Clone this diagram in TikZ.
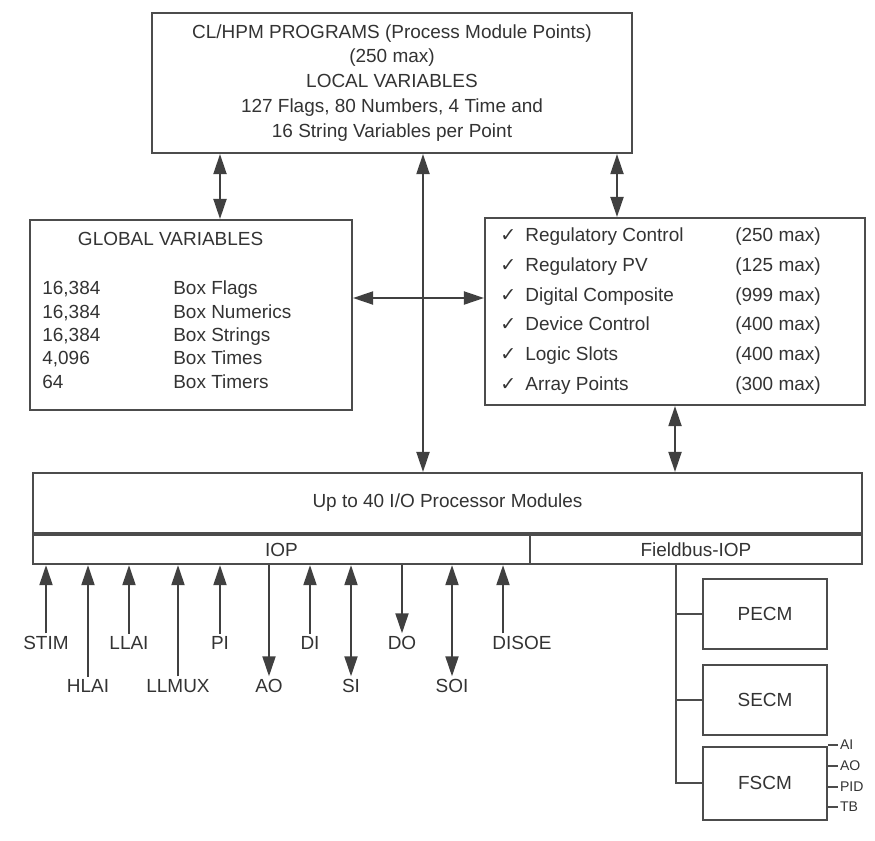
\documentclass[tikz,border=0pt]{standalone}
\usepackage{fontspec}
\setmainfont{Liberation Sans}
\newfontfamily\symfont{DejaVu Sans}
\usetikzlibrary{positioning,arrows.meta}
\begin{document}
\begin{tikzpicture}[
    x = 0.02cm,
    y = -0.02cm,
    font = \fontsize{10.8}{14.2}\selectfont,
    >= {Triangle[length=4mm,width=2.6mm]},
    box/.style = {
        rectangle,
        draw = black!70,
        line width = 1.2pt,
        text = black!80,
        inner sep = 0pt
    },
    tag/.style = {
        text = black!80,
        inner sep = 1.5pt
    },
    arrow/.style = {
        line width = 1.1pt,
        draw = black!75
    },
    line/.style = {
        line width = 1.1pt,
        draw = black!70
    },
    small/.style = {
        text = black!80,
        inner sep = 1pt,
        font = \fontsize{8}{8}\selectfont
    }
]
    \useasboundingbox (0,0) rectangle (875,840);

    % Upper boxes
    \node [box, minimum width = 9.6cm, minimum height = 2.8cm, align = center] (prog) at (392,83)
        {CL/HPM PROGRAMS (Process Module Points)\\(250 max)\\LOCAL VARIABLES\\127 Flags, 80 Numbers, 4 Time and\\16 String Variables per Point};
    \node [box, minimum width = 6.44cm, minimum height = 3.8cm] (glob) at (191,315) {};
    \node [box, minimum width = 7.6cm, minimum height = 3.74cm] (rbox) at (675,311.5) {};

    \node [tag, anchor = base west] (globtitle) at (75,245) {GLOBAL VARIABLES};
    \node [tag, anchor = north west, inner sep = 0pt, font = \fontsize{10.8}{13.3}\selectfont] (globlist) at (42,278)
        {\begin{tabular}{@{}p{2.62cm}@{}l@{}}
            16,384 & Box Flags\\
            16,384 & Box Numerics\\
            16,384 & Box Strings\\
            4,096 & Box Times\\
            64 & Box Timers
        \end{tabular}};
    \node [tag, anchor = north west, inner sep = 0pt, font = \fontsize{10.8}{17}\selectfont] (pointlist) at (500,220)
        {\begin{tabular}{@{}p{0.5cm}@{}p{4.2cm}@{}l@{}}
            {\symfont ✓} & Regulatory Control & (250 max)\\
            {\symfont ✓} & Regulatory PV & (125 max)\\
            {\symfont ✓} & Digital Composite & (999 max)\\
            {\symfont ✓} & Device Control & (400 max)\\
            {\symfont ✓} & Logic Slots & (400 max)\\
            {\symfont ✓} & Array Points & (300 max)
        \end{tabular}};

    % I/O processor boxes
    \node [box, minimum width = 16.58cm, minimum height = 1.2cm] (main) at (447.5,503) {Up to 40 I/O Processor Modules};
    \node [box, minimum width = 9.94cm, minimum height = 0.58cm, anchor = north west] (iop) at (main.south west) {IOP};
    \node [box, minimum width = 6.64cm, minimum height = 0.58cm, anchor = north east] (fbus) at (main.south east) {Fieldbus-IOP};

    % Fieldbus modules
    \node [box, minimum width = 2.48cm, minimum height = 1.4cm] (pecm) at (765,614) {PECM};
    \node [box, minimum width = 2.48cm, minimum height = 1.4cm, below = 0.28cm of pecm] (secm) {SECM};
    \node [box, minimum width = 2.48cm, minimum height = 1.45cm, below = 0.2cm of secm] (fscm) {FSCM};

    \node [small, anchor = west] (fai) at (838,745) {AI};
    \node [small, anchor = west] (fao) at (838,766) {AO};
    \node [small, anchor = west] (fpid) at (838,787) {PID};
    \node [small, anchor = west] (ftb) at (838,807) {TB};

    % Signal labels
    \node [tag] (stim) at (46,643) {STIM};
    \node [tag] (hlai) at (88,686) {HLAI};
    \node [tag] (llai) at (129,643) {LLAI};
    \node [tag] (llmux) at (178,686) {LLMUX};
    \node [tag] (pi) at (220,643) {PI};
    \node [tag] (ao) at (269,686) {AO};
    \node [tag] (di) at (310,643) {DI};
    \node [tag] (si) at (351,686) {SI};
    \node [tag] (do) at (402,643) {DO};
    \node [tag] (soi) at (452,686) {SOI};
    \node [tag] (disoe) at (522,643) {DISOE};

    % Helper points
    \coordinate (tl) at (220,186);
    \coordinate (tr) at (617,186);
    \coordinate (hz) at (423,298);
    \coordinate [left = 0.38cm of disoe.north] (disoe-end);
    \coordinate [left = 0.4cm of fbus.south] (fb);

    % Arrows
    \draw [arrow, <->] (prog.south -| tl) -- (glob.north -| tl);
    \draw [arrow, <->] (prog.south -| tr) -- (rbox.north -| tr);
    \draw [arrow, <->] (prog.south -| hz) -- (main.north -| hz);
    \draw [arrow, <->] (glob.east |- hz) -- (rbox.west |- hz);
    \draw [arrow, <->] (rbox.south) -- (rbox.south |- main.north);

    \draw [arrow, ->] (stim.north) -- (stim.north |- iop.south);
    \draw [arrow, ->] (hlai.north) -- (hlai.north |- iop.south);
    \draw [arrow, ->] (llai.north) -- (llai.north |- iop.south);
    \draw [arrow, ->] (llmux.north) -- (llmux.north |- iop.south);
    \draw [arrow, ->] (pi.north) -- (pi.north |- iop.south);
    \draw [arrow, <-] (ao.north) -- (ao.north |- iop.south);
    \draw [arrow, ->] (di.north) -- (di.north |- iop.south);
    \draw [arrow, <->] (si.north) -- (si.north |- iop.south);
    \draw [arrow, <-] (do.north) -- (do.north |- iop.south);
    \draw [arrow, <->] (soi.north) -- (soi.north |- iop.south);
    \draw [arrow, ->] (disoe-end) -- (disoe-end |- iop.south);

    % Fieldbus lines
    \draw [line] (fb) |- (fscm.west);
    \draw [line] (fb |- pecm.west) -- (pecm.west);
    \draw [line] (fb |- secm.west) -- (secm.west);
    \draw [line] (fscm.east |- fai.west) -- (fai.west);
    \draw [line] (fscm.east |- fao.west) -- (fao.west);
    \draw [line] (fscm.east |- fpid.west) -- (fpid.west);
    \draw [line] (fscm.east |- ftb.west) -- (ftb.west);

\end{tikzpicture}
\end{document}
